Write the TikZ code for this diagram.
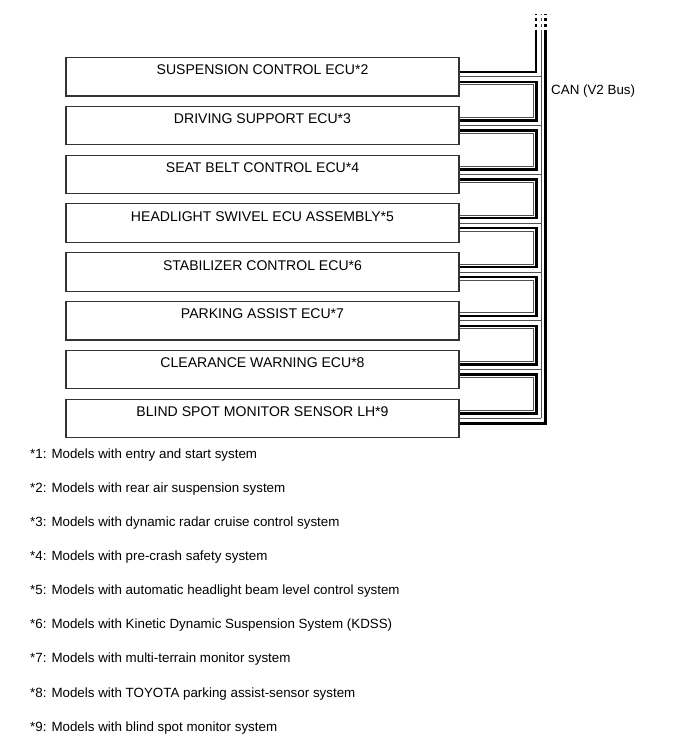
\documentclass[tikz,border=0pt]{standalone}
\usepackage{fontspec}
\setmainfont{Liberation Sans}
\definecolor{BoxEdge}{HTML}{333333}
\definecolor{PairGrey}{HTML}{505050}
\usetikzlibrary{calc}

\begin{document}
\begin{tikzpicture}[
        x=0.03cm,
        y=-0.03cm,
        ecubox/.style={
            draw=BoxEdge,
            line width=0.9pt,
            minimum width=11.79cm,
            minimum height=1.155cm,
            inner sep=0pt,
            text height=0.3cm,
            text depth=0.41cm,
            font=\fontsize{12}{14}\selectfont
        },
        wirethick/.style={
            line width=2.1pt,
            draw=black
        },
        wirethin/.style={
            line width=0.6pt,
            draw=PairGrey
        },
        busend/.style={
            dash pattern=on 0.09cm off 0.09cm
        },
        notetext/.style={
            anchor=base west,
            inner sep=0pt,
            font=\fontsize{11.4}{13}\selectfont
        }
    ]
        \useasboundingbox (0,0) rectangle (690,756);

        \node[ecubox] (ecu1) at (262.5,76.75) {SUSPENSION CONTROL ECU*2};
        \node[ecubox] (ecu2) at (262.5,125.55) {DRIVING SUPPORT ECU*3};
        \node[ecubox] (ecu3) at (262.5,174.35) {SEAT BELT CONTROL ECU*4};
        \node[ecubox] (ecu4) at (262.5,223.15) {HEADLIGHT SWIVEL ECU ASSEMBLY*5};
        \node[ecubox] (ecu5) at (262.5,271.95) {STABILIZER CONTROL ECU*6};
        \node[ecubox] (ecu6) at (262.5,320.75) {PARKING ASSIST ECU*7};
        \node[ecubox] (ecu7) at (262.5,369.55) {CLEARANCE WARNING ECU*8};
        \node[ecubox] (ecu8) at (262.5,418.35) {BLIND SPOT MONITOR SENSOR LH*9};

        \coordinate (hitop) at (536,14);
        \coordinate (midtop) at (541,14);
        \coordinate (lotop) at (545.5,14);

        \node[anchor=base west, inner sep=0pt, font=\fontsize{11.4}{13}\selectfont]
            (canlabel) at (551,94) {CAN (V2 Bus)};

        \draw[wirethick] ($(ecu1.east)+(0,-5)$) -| ($(hitop)+(0,19)$);
        \draw[wirethick,busend] ($(hitop)+(0,19)$) -- (hitop);
        \draw[wirethin] (ecu8.east -| midtop) -- ($(midtop)+(0,19)$);
        \draw[wirethin,busend] ($(midtop)+(0,19)$) -- (midtop);
        \draw[wirethick] ($(ecu8.east)+(0,5)$) -| ($(lotop)+(0,19)$);
        \draw[wirethick,busend] ($(lotop)+(0,19)$) -- (lotop);

        \foreach \k in {1,...,8}
            \draw[wirethin] (ecu\k.east) -- (ecu\k.east -| midtop);

        \foreach \k [evaluate=\k as \n using int(\k+1)] in {1,...,7} {
            \draw[wirethick] ($(ecu\k.east)+(0,5)$) -| ($(ecu\n.east)+(77,-5)$)
                -- ($(ecu\n.east)+(0,-5)$);
            \draw[wirethin] ($(ecu\k.east)+(0,8)$) -| ($(ecu\n.east)+(74,-8)$)
                -- ($(ecu\n.east)+(0,-8)$);
        }

        \foreach \txt [count=\k] in {
            Models with entry and start system,
            Models with rear air suspension system,
            Models with dynamic radar cruise control system,
            Models with pre-crash safety system,
            Models with automatic headlight beam level control system,
            Models with Kinetic Dynamic Suspension System (KDSS),
            Models with multi-terrain monitor system,
            Models with TOYOTA parking assist-sensor system,
            Models with blind spot monitor system}
            \node[notetext] (note\k) at (30,{458.3+(\k-1)*34.1}) {*\k: \txt};
    \end{tikzpicture}
\end{document}
